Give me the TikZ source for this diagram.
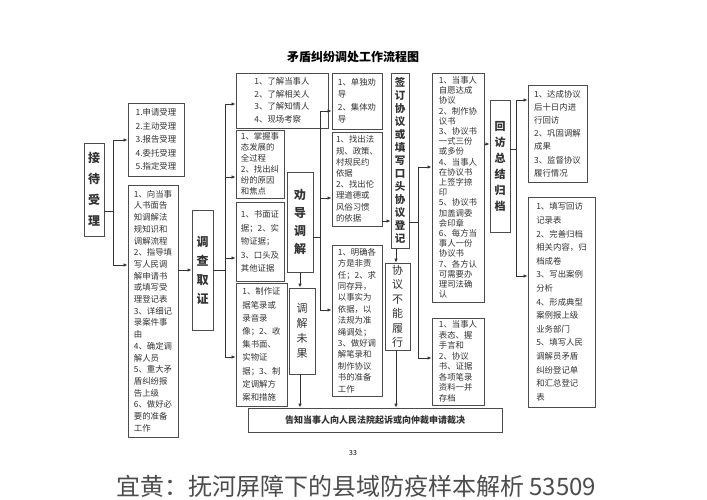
\documentclass[tikz,border=0pt]{standalone}
\usepackage{fontspec}
\setmainfont{Noto Sans CJK SC}
\usetikzlibrary{arrows.meta}
\newcommand\mylsk{\lineskiplimit=-20pt\relax}
\begin{document}
\begin{tikzpicture}[x=1pt,y=-1pt,
  box/.style={draw=black!70,line width=0.9pt,fill=white,inner sep=0pt,align=left,
    font=\fontsize{8.4}{11.2}\selectfont\mylsk,text=black!80},
  ls/.style={font=\fontsize{8.4}{#1}\selectfont\mylsk},
  vbox/.style={box,align=center,font=\fontsize{12}{15}\selectfont\bfseries},
  arr/.style={draw=black!80,line width=0.8pt,-{Latex[length=4pt,width=3.5pt]}},
  ln/.style={draw=black!80,line width=0.8pt}]
\useasboundingbox (0,0) rectangle (707,500);
\newcommand\bx[7][box]{\node[#1,minimum width={(#5-#3)*1pt},minimum height={(#6-#4)*1pt}] (#2) at ({(#3+#5)/2},{(#4+#6)/2}) {#7};}
\node[font=\fontsize{12}{14}\selectfont\bfseries] (title) at (353,57) {矛盾纠纷调处工作流程图};
\bx[vbox]{jd}{84}{143}{104}{236}{接\\[6pt]待\\[6pt]受\\[6pt]理}
\bx[box,ls=13.5]{A1}{128}{103}{184}{176}{1.申请受理\\2.主动受理\\3.报告受理\\4.委托受理\\5.指定受理}
\bx[box,ls=11.7]{A2}{128}{185}{178}{437}{1、向当事\\人书面告\\知调解法\\规知识和\\调解流程\\2、指导填\\写人民调\\解申请书\\或填写受\\理登记表\\3、详细记\\录案件事\\由\\4、确定调\\解人员\\5、重大矛\\盾纠纷报\\告上级\\6、做好必\\要的准备\\工作}
\bx[vbox]{dc}{192}{210}{213}{330}{调\\[4pt]查\\[4pt]取\\[4pt]证}
\bx[box,ls=12.5]{B1}{236}{73}{328}{128}{1、了解当事人\\2、了解相关人\\3、了解知情人\\4、现场考察}
\bx[box,ls=11]{B2}{236}{130}{284}{198}{1、掌握事\\态发展的\\全过程\\2、找出纠\\纷的原因\\和焦点}
\bx[box,ls=13.5]{B3}{236}{202}{284}{281}{1、书面证\\据；2、实\\物证据；\\3、口头及\\其他证据}
\bx[box,ls=13.2]{B4}{236}{283}{287}{406}{1、制作证\\据笔录或\\录音录\\像；2、收\\集书面、\\实物证\\据；3、制\\定调解方\\案和措施}
\bx[vbox]{qd}{287}{172}{313}{272}{劝\\[3pt]导\\[3pt]调\\[3pt]解}
\bx[vbox,font=\fontsize{11}{15}\selectfont]{wg}{289}{288}{315}{374}{调\\解\\未\\果}
\bx[box,ls=12.5]{C1}{332}{73}{382}{129}{1、单独劝\\导\\2、集体劝\\导}
\bx[box,ls=11.2]{C2}{332}{132}{382}{226}{1、找出法\\规、政策、\\村规民约\\依据\\2、找出伦\\理道德或\\风俗习惯\\的依据}
\bx[box,ls=11.4]{C3}{332}{245}{382}{396}{1、明确各\\方是非责\\任；2、求\\同存异，\\以事实为\\依据，以\\法规为准\\绳调处；\\3、做好调\\解笔录和\\制作协议\\书的准备\\工作}
\bx[vbox,font=\fontsize{10.5}{13}\selectfont\bfseries\mylsk]{qy}{391}{73}{409}{248}{签\\订\\协\\议\\或\\填\\写\\口\\头\\协\\议\\登\\记}
\bx[vbox,font=\fontsize{11}{14.5}\selectfont]{bn}{385}{263}{410}{350}{协\\议\\不\\能\\履\\行}
\bx[box,ls=10.2]{D1}{432}{73}{484}{302}{1、当事人\\自愿达成\\协议\\2、制作协\\议书\\3、协议书\\一式三份\\或多份\\4、当事人\\在协议书\\上签字捺\\印\\5、协议书\\加盖调委\\会印章\\6、每方当\\事人一份\\协议书\\7、各方认\\可需要办\\理司法确\\认}
\bx[box,ls=10.5]{D2}{432}{318}{484}{405}{1、当事人\\表态、握\\手言和\\2、协议\\书、证据\\各项笔录\\资料一并\\存档}
\bx[vbox,font=\fontsize{11}{16}\selectfont\bfseries]{hf}{490}{100}{510}{232}{回\\访\\总\\结\\归\\档}
\bx[box,ls=13.2]{E1}{528}{85}{587}{182}{1、达成协议\\后十日内进\\行回访\\2、巩固调解\\成果\\3、监督协议\\履行情况}
\bx[box,ls=13.6]{E2}{528}{197}{595}{407}{1、填写回访\\记录表\\2、完善归档\\相关内容，归\\档成卷\\3、写出案例\\分析\\4、形成典型\\案例报上级\\业务部门\\5、填写人民\\调解员矛盾\\纠纷登记单\\和汇总登记\\表}
\bx[box,font=\fontsize{9}{11}\selectfont\bfseries]{bt}{248}{408}{502}{432}{告知当事人向人民法院起诉或向仲裁申请裁决}
\node[font=\fontsize{7}{8}\selectfont] (pg) at (353,453) {33};
\node[font=\fontsize{24}{28}\selectfont,text=black!70] (cap) at (356,486) {宜黄：抚河屏障下的县域防疫样本解析\ 53509};
% connectors
\coordinate (b1) at (113,211);
\draw[ln] (jd.east |- b1) -- (b1);
\draw[ln] (113,140) -- (113,265);
\draw[arr] (113,140) -- (A1.west |- 0,140);
\draw[arr] (113,265) -- (A2.west |- 0,265);
\draw[arr] (A2.east |- 0,270) -- (dc.west |- 0,270);
\draw[ln] (dc.east |- 0,270) -- (225,270);
\draw[ln] (225,104) -- (225,357);
\foreach \n/\y in {B1/104,B2/177,B3/258,B4/357}{\draw[arr] (225,\y) -- (\n.west |- 0,\y);}
\draw[ln] (qd.east |- 0,237) -- (320,237);
\draw[ln] (320,111) -- (320,310);
\foreach \n/\y in {C1/111,C2/198,C3/310}{\draw[arr] (320,\y) -- (\n.west |- 0,\y);}
\draw[arr] (300,272) -- (wg.north -| 300,0);
\draw[arr] (wg.south -| 300,0) -- (bt.north -| 300,0);
\draw[arr] (C2.east |- 0,221) -- (qy.west |- 0,221);
\draw[ln] (qy.east |- 0,222) -- (418,222);
\draw[ln] (418,167) -- (418,358);
\draw[arr] (418,167) -- (D1.west |- 0,167);
\draw[arr] (418,358) -- (D2.west |- 0,358);
\draw[arr] (qy.south -| 396,0) -- (bn.north -| 396,0);
\draw[arr] (bn.south -| 396,0) -- (bt.north -| 396,0);
\draw[arr] (D1.east |- 0,144) -- (hf.west |- 0,144);
\draw[ln] (hf.east |- 0,149) -- (516,149);
\draw[ln] (516,100) -- (516,276);
\draw[arr] (516,100) -- (E1.west |- 0,100);
\draw[arr] (516,276) -- (E2.west |- 0,276);
\end{tikzpicture}
\end{document}
